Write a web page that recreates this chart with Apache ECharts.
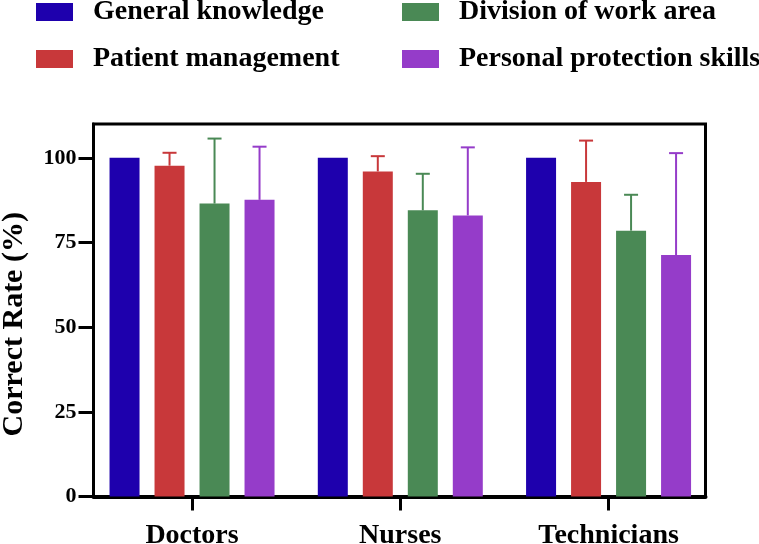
<!DOCTYPE html>
<html>
<head>
<meta charset="utf-8">
<script src="https://cdn.jsdelivr.net/npm/echarts@6/dist/echarts.min.js"></script>
<style>html,body{margin:0;padding:0;background:#fff}#c{width:759px;height:544px}</style>
</head>
<body>
<div id="c"></div>
<script>
const categories = ['Doctors', 'Nurses', 'Technicians'];
const seriesNames = ['General knowledge', 'Patient management', 'Division of work area', 'Personal protection skills'];
const generalKnowledge = [100, 100, 100];
const patientManagement = [97.7, 96.0, 92.9];
const divisionOfWorkArea = [86.5, 84.5, 78.5];
const personalProtection = [87.6, 83.0, 71.3];
const generalKnowledgeSD = [0, 0, 0];
const patientManagementSD = [3.8, 4.5, 12.2];
const divisionOfWorkAreaSD = [19.2, 10.8, 10.6];
const personalProtectionSD = [15.7, 20.1, 30.1];
const yTicks = [0, 25, 50, 75, 100];

const colors = ['#1E00AD', '#C8383A', '#4A8955', '#953CC9'];
const values = [generalKnowledge, patientManagement, divisionOfWorkArea, personalProtection];
const sds = [generalKnowledgeSD, patientManagementSD, divisionOfWorkAreaSD, personalProtectionSD];
const FONT = '"Liberation Serif", "Times New Roman", serif';
const BAR_W = 30, BAR_GAP = 0.5;

const chart = echarts.init(document.getElementById('c'));

const series = [];
values.forEach((v, i) => {
  series.push({
    name: seriesNames[i], type: 'bar', xAxisIndex: 0, yAxisIndex: 0,
    data: v, barWidth: BAR_W, barGap: (BAR_GAP * 100) + '%',
    itemStyle: { color: colors[i] }, silent: true
  });
});
values.forEach((v, i) => {
  if (sds[i].every(s => s === 0)) return;
  series.push({
    type: 'custom', xAxisIndex: 0, yAxisIndex: 0, silent: true, z: 3,
    data: v.map((val, j) => [j, val, sds[i][j]]),
    renderItem: function (params, api) {
      const j = api.value(0), val = api.value(1), sd = api.value(2);
      const off = (i - 1.5) * BAR_W * (1 + BAR_GAP);
      const p0 = api.coord([j, val]);
      const p1 = api.coord([j, val + sd]);
      const x = p0[0] + off;
      const style = { stroke: colors[i], lineWidth: 2 };
      return {
        type: 'group', children: [
          { type: 'line', shape: { x1: x, y1: p0[1], x2: x, y2: p1[1] }, style: style },
          { type: 'line', shape: { x1: x - 7, y1: p1[1], x2: x + 7, y2: p1[1] }, style: style }
        ]
      };
    }
  });
});

const legendCommon = {
  orient: 'vertical', padding: 0, itemWidth: 37, itemHeight: 18, itemGap: 19,
  icon: 'rect', selectedMode: false,
  textStyle: { fontFamily: FONT, fontSize: 28, fontWeight: 'bold', color: '#000', lineHeight: 28, padding: [0, 0, 0, 15] }
};

chart.setOption({
  animation: false,
  color: colors,
  legend: [
    Object.assign({}, legendCommon, { left: 36, top: -2, data: [seriesNames[0], seriesNames[1]] }),
    Object.assign({}, legendCommon, { left: 402, top: -2, data: [seriesNames[2], seriesNames[3]] })
  ],
  grid: [
    { left: 87.9, width: 624.8, top: 124, height: 372.5, containLabel: false, outerBoundsMode: 'none' },
    { left: 93.5, width: 612, top: 124, height: 372.5, show: true, borderColor: '#000', borderWidth: 3, backgroundColor: 'transparent', containLabel: false, outerBoundsMode: 'none' }
  ],
  xAxis: [
    {
      type: 'category', gridIndex: 0, data: categories, boundaryGap: true,
      axisLine: { show: false },
      axisTick: { show: true, alignWithLabel: true, length: 14, lineStyle: { color: '#000', width: 3 } },
      axisLabel: { fontFamily: FONT, fontSize: 28, fontWeight: 'bold', color: '#000', margin: 25 },
      splitLine: { show: false }
    },
    {
      type: 'value', gridIndex: 1, min: 0, max: 1,
      axisLine: { show: true, lineStyle: { color: '#000', width: 4 } },
      axisTick: { show: false }, axisLabel: { show: false }, splitLine: { show: false }
    }
  ],
  yAxis: [
    { type: 'value', gridIndex: 0, min: 0, max: 110, show: false, splitLine: { show: false } },
    {
      type: 'value', gridIndex: 1, min: 0, max: 110,
      name: 'Correct Rate (%)', nameLocation: 'middle', nameGap: 64,
      nameTextStyle: { fontFamily: FONT, fontSize: 30, fontWeight: 'bold', color: '#000', padding: [0, 28, 0, 0] },
      axisLine: { show: true, lineStyle: { color: '#000', width: 3 } },
      axisTick: { show: true, length: 15, customValues: yTicks, lineStyle: { color: '#000', width: 3 } },
      axisLabel: { customValues: yTicks, fontFamily: FONT, fontSize: 22, fontWeight: 'bold', color: '#000', margin: 17 },
      splitLine: { show: false }
    }
  ],
  series: series
});
</script>
</body>
</html>
